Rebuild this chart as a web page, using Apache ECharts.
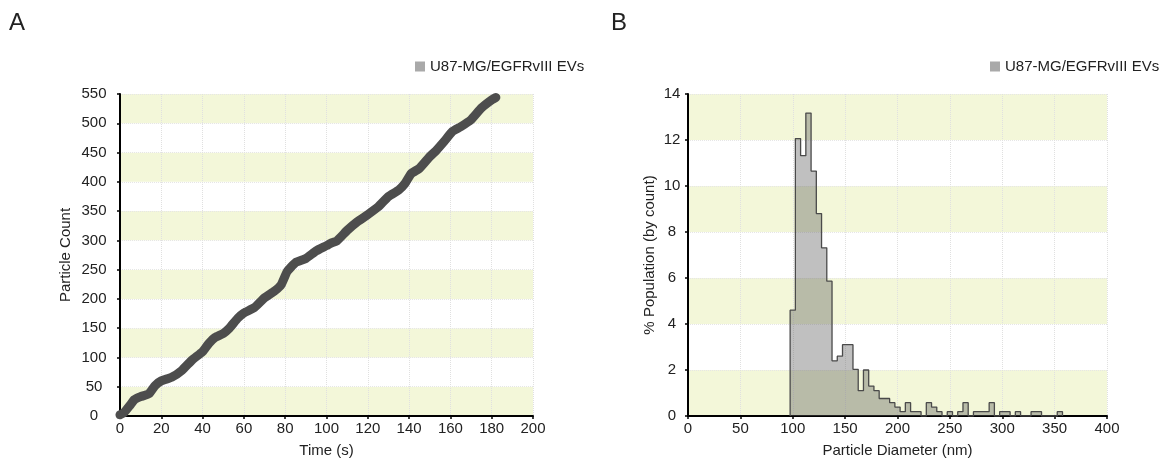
<!DOCTYPE html>
<html>
<head>
<meta charset="utf-8">
<script src="https://cdn.jsdelivr.net/npm/echarts@6/dist/echarts.min.js"></script>
<style>
html,body{margin:0;padding:0;background:#fff;}
#c{width:1163px;height:463px;}
</style>
</head>
<body>
<div id="c"></div>
<script>
// ---- Panel A: cumulative particle count vs time ----
var timeSec = [0, 2, 5, 7, 10, 14, 17, 20, 25, 30, 35, 40, 43, 46, 50, 53, 57, 60, 65, 70, 75, 78, 81, 85, 90, 95, 100, 102, 105, 110, 115, 120, 125, 130, 135, 138, 141, 145, 150, 153, 157, 161, 165, 170, 175, 180, 182];
var particleCount = [2, 6, 19, 28, 33, 38, 52, 60, 66, 78, 96, 110, 124, 134, 141, 150, 167, 176, 185, 202, 214, 224, 247, 262, 269, 282, 291, 295, 299, 317, 332, 344, 357, 375, 386, 397, 414, 423, 443, 453, 469, 486, 494, 506, 526, 540, 544];

// ---- Panel B: size distribution histogram ----
var binWidthNm = 5;
var binCenterNm = [100,105,110,115,120,125,130,135,140,145,150,155,160,165,170,175,180,185,190,195,200,205,210,215,220,225,230,235,240,245,250,255,260,265,270,275,280,285,290,295,300,305,310,315,320,325,330,335,340,345,350,355];
var populationPct = [4.6,12.06,11.32,13.17,10.65,8.8,7.31,5.86,2.4,2.6,3.1,3.1,2.03,1.1,2.0,1.3,1.1,0.76,0.76,0.58,0.39,0.19,0.58,0.19,0.19,0,0.58,0.39,0.19,0,0.19,0,0.19,0.58,0,0.19,0.19,0.19,0.58,0,0.19,0.19,0,0.19,0,0,0.19,0.19,0,0,0,0.19];

var seriesName = 'U87-MG/EGFRvIII EVs';
var xTicksA = {min: 0, max: 200, interval: 20};
var yTicksA = {min: 0, max: 550, interval: 50};
var xTicksB = {min: 0, max: 400, interval: 50};
var yTicksB = {min: 0, max: 14, interval: 2};

var lineData = timeSec.map(function (t, i) { return [t, particleCount[i]]; });
var histData = [];
binCenterNm.forEach(function (c, i) {
  var l = c - binWidthNm / 2, r = c + binWidthNm / 2;
  if (i === 0) histData.push([l, 0]);
  histData.push([l, populationPct[i]]);
  histData.push([r, populationPct[i]]);
  if (i === binCenterNm.length - 1) histData.push([r, 0]);
});

var FONT = '"Liberation Sans", Arial, Helvetica, sans-serif';
var BAND = ['#f3f7d9', '#ffffff'];
var TXT = '#222';

function xAxisCfg(gi, ticks, name, gap) {
  return {
    type: 'value', gridIndex: gi, min: ticks.min, max: ticks.max, interval: ticks.interval,
    name: name, nameLocation: 'middle', nameGap: gap,
    nameTextStyle: {fontFamily: FONT, fontSize: 15, color: TXT},
    axisLine: {show: true, onZero: false, lineStyle: {color: '#000', width: 2}},
    axisTick: {show: true, length: 3, lineStyle: {color: '#000', width: 1.5}},
    axisLabel: {fontFamily: FONT, fontSize: 15, color: TXT, margin: 5},
    splitLine: {show: true, lineStyle: {color: '#e0e0e0', type: 'dotted', width: 1}}
  };
}
function yAxisCfg(gi, ticks, name, gap, labelMargin) {
  return {
    type: 'value', gridIndex: gi, min: ticks.min, max: ticks.max, interval: ticks.interval,
    name: name, nameLocation: 'middle', nameGap: gap,
    nameTextStyle: {fontFamily: FONT, fontSize: 15, color: TXT},
    axisLine: {show: true, lineStyle: {color: '#000', width: 2}},
    axisTick: {show: true, length: 3, lineStyle: {color: '#000', width: 1.5}},
    axisLabel: {fontFamily: FONT, fontSize: 15, color: TXT, margin: labelMargin, align: 'center'},
    splitLine: {show: true, lineStyle: {color: '#e6e6e6', type: 'dotted', width: 1}},
    splitArea: {show: true, areaStyle: {color: BAND}}
  };
}

var chart = echarts.init(document.getElementById('c'), null, {renderer: 'canvas'});
chart.setOption({
  animation: false,
  backgroundColor: '#ffffff',
  title: [
    {text: 'A', left: 9, top: 11, padding: 0, textStyle: {fontFamily: FONT, fontSize: 24, fontWeight: 'normal', color: '#222'}},
    {text: 'B', left: 611, top: 11, padding: 0, textStyle: {fontFamily: FONT, fontSize: 24, fontWeight: 'normal', color: '#222'}}
  ],
  legend: [
    {left: 415, top: 59, padding: 0, itemWidth: 10, itemHeight: 10, icon: 'rect', seriesIndex: 0,
     data: [{name: seriesName, itemStyle: {color: '#a9a9a9'}}],
     textStyle: {fontFamily: FONT, fontSize: 15, color: TXT}, selectedMode: false},
    {left: 990, top: 59, padding: 0, itemWidth: 10, itemHeight: 10, icon: 'rect',
     data: [{name: seriesName, itemStyle: {color: '#a9a9a9'}}],
     textStyle: {fontFamily: FONT, fontSize: 15, color: TXT}, selectedMode: false}
  ],
  grid: [
    {left: 120, top: 94, width: 413, height: 325},
    {left: 688, top: 94, width: 419, height: 324}
  ],
  xAxis: [
    xAxisCfg(0, xTicksA, 'Time (s)', 27),
    xAxisCfg(1, xTicksB, 'Particle Diameter (nm)', 27)
  ],
  yAxis: [
    yAxisCfg(0, yTicksA, 'Particle Count', 47, 26),
    yAxisCfg(1, yTicksB, '% Population (by count)', 31, 16)
  ],
  series: [
    {
      name: seriesName, type: 'line', xAxisIndex: 0, yAxisIndex: 0, data: lineData,
      symbol: 'none', smooth: 0.15, clip: false,
      itemStyle: {color: '#a9a9a9'},
      lineStyle: {color: '#4d4d4d', width: 9, cap: 'round', join: 'round'}
    },
    {
      name: seriesName, type: 'line', xAxisIndex: 1, yAxisIndex: 1, data: histData,
      symbol: 'none',
      itemStyle: {color: '#a9a9a9'},
      lineStyle: {color: '#4a4a4a', width: 1.3},
      areaStyle: {color: 'rgba(90,90,90,0.55)', origin: 'start'}
    }
  ]
});
</script>
</body>
</html>
